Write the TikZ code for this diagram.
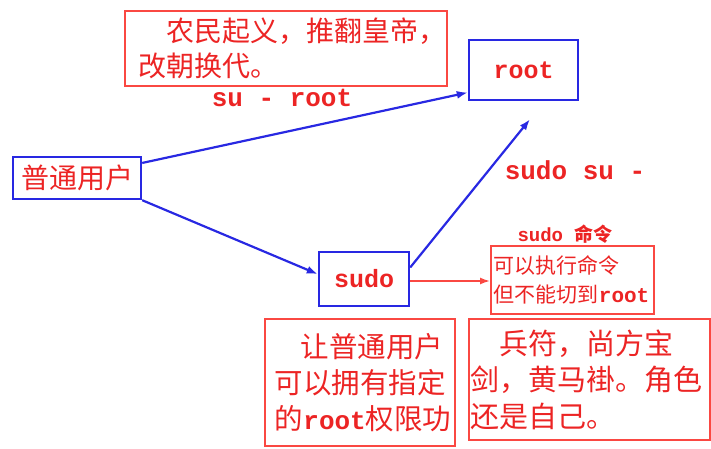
\documentclass[tikz,border=0pt]{standalone}
\usepackage{fontspec}
\setmonofont{Liberation Mono}
\newfontfamily\cjk{Noto Sans CJK SC}
\usepackage{tikz}
\usetikzlibrary{arrows.meta}

\definecolor{inkred}{RGB}{236,36,36}
\definecolor{boxred}{RGB}{250,72,66}
\definecolor{lineblue}{RGB}{40,40,226}

\begin{document}
\begin{tikzpicture}[x=1pt, y=-1pt,
		userbox/.style={draw=lineblue, line width=2.4pt, text=inkred, inner sep=0pt},
		notebox/.style={draw=boxred, line width=1.8pt, text=inkred, align=left, inner ysep=0pt, anchor=north west},
		tag/.style={text=inkred, inner sep=0pt},
		link/.style={lineblue, line width=2.2pt, -{Latex[length=11pt,width=8pt]}},
		cmdlink/.style={boxred, line width=1.6pt, -{Latex[length=10pt,width=7pt]}}]
		\useasboundingbox (0, 0) rectangle (711, 449);

		\node[userbox, minimum width=128pt, minimum height=42pt, font=\cjk\fontsize{28pt}{32pt}\selectfont] (user) at (77, 178) {普通用户};
		\node[userbox, minimum width=109pt, minimum height=60pt, font=\ttfamily\bfseries\fontsize{25pt}{30pt}\selectfont] (root) at (523.5, 70) {root};
		\node[userbox, minimum width=90pt, minimum height=54pt, font=\ttfamily\bfseries\fontsize{25pt}{30pt}\selectfont] (sudo) at (364, 279) {sudo};

		\node[notebox, inner xsep=14pt, text width=294pt, minimum height=75pt, font=\cjk\fontsize{28pt}{35pt}\selectfont] (rebel) at (124, 10) {\hspace*{1em}农民起义，推翻皇帝，\\改朝换代。};
		\node[notebox, inner xsep=3pt, text width=157pt, minimum height=68pt, font=\cjk\fontsize{21pt}{29pt}\selectfont] (cmdnote) at (490, 245) {可以执行命令\\但不能切到{\ttfamily\bfseries root}};
		\node[notebox, inner xsep=10pt, text width=170pt, minimum height=127pt, font=\cjk\fontsize{28.5pt}{36pt}\selectfont] (permnote) at (264, 318) {\hspace*{0.9em}让普通用户\\可以拥有指定\\的{\ttfamily\bfseries\fontsize{26pt}{36pt}\selectfont root}权限功};
		\node[notebox, inner xsep=2pt, text width=237pt, minimum height=121pt, font=\cjk\fontsize{29pt}{36.5pt}\selectfont] (badge) at (468, 318) {\hspace*{1em}兵符，尚方宝\\剑，黄马褂。角色\\还是自己。};

		\node[tag, font=\ttfamily\bfseries\fontsize{26pt}{30pt}\selectfont] (suroot) at (282, 98) {su - root};
		\node[tag, font=\ttfamily\bfseries\fontsize{26pt}{30pt}\selectfont] (sudosu) at (575, 170) {sudo su -};
		\node[tag, font=\ttfamily\bfseries\fontsize{19pt}{22pt}\selectfont] (sudocmd) at (565, 234) {sudo {\cjk 命令}};

		\coordinate (rootgap) at ([xshift=6.5pt, yshift=-18pt]root.south);

		\draw[link] (user.13) -- (root.202);
		\draw[link] (user.south east) -- (sudo.174);
		\draw[link] (sudo.14) -- (rootgap);
		\draw[cmdlink] ([yshift=-2pt]sudo.east) -- ([yshift=-2pt]sudo.east -| cmdnote.west);
	\end{tikzpicture}
\end{document}
